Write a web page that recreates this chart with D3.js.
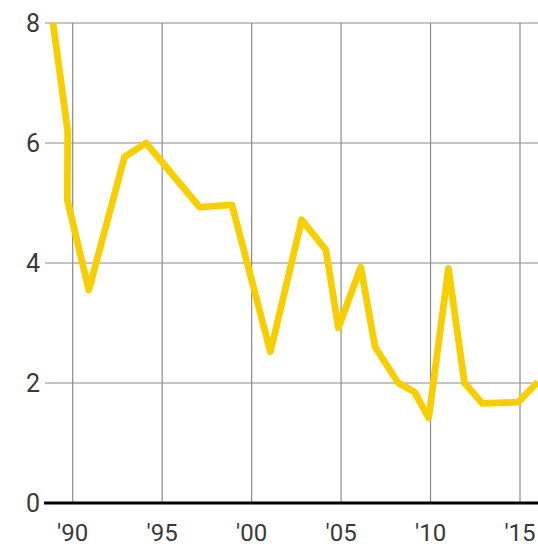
<!DOCTYPE html>
<html>
<head>
<meta charset="utf-8">
<script src="https://cdn.jsdelivr.net/npm/d3@7"></script>
<style>
  body { margin: 0; background: #fff; }
  svg { display: block; }
  text { font-family: Roboto, "Noto Sans", sans-serif; fill: #3a3a3a; }
</style>
</head>
<body>
<div class="chart"></div>
<script>
//Values (decimal years, points are not evenly spaced)
const years = [1988.9, 1989.72, 1989.7, 1990.9, 1992.9, 1994.1, 1997.1, 1998.9, 2001.05, 2002.8,
    2004.15, 2004.85, 2006.1, 2006.9, 2008.2, 2009.1, 2009.9, 2011.0, 2011.9, 2012.9, 2014.9, 2016.0];
const values = [8.0, 6.2, 5.05, 3.55, 5.77, 6.0, 4.93, 4.97, 2.52, 4.72,
    4.22, 2.92, 3.93, 2.6, 2.0, 1.85, 1.42, 3.91, 2.0, 1.66, 1.68, 2.02];

const yTicks = [0, 2, 4, 6, 8];
const xTicks = [1990, 1995, 2000, 2005, 2010, 2015];
const xLabels = ["'90", "'95", "'00", "'05", "'10", "'15"];

const WIDTH = 538;
const HEIGHT = 549;

let svg = d3.select('.chart')
.append('svg')
.attr('width', WIDTH)
.attr('height', HEIGHT);

//Scales
const x = d3.scaleLinear().domain([1990, 2015]).range([72.7, 520]);
const y = d3.scaleLinear().domain([0, 8]).range([503, 23]);

//Vertical grid
svg.append('g')
.selectAll()
.data(xTicks)
.enter()
.append('line')
.attr('x1', d => x(d))
.attr('x2', d => x(d))
.attr('y1', y(8))
.attr('y2', y(0))
.style('stroke', '#8a8a8a')
.style('stroke-width', 1.2);

//Horizontal grid
svg.append('g')
.selectAll()
.data(yTicks.filter(d => d > 0))
.enter()
.append('line')
.attr('x1', 45)
.attr('x2', WIDTH)
.attr('y1', d => y(d))
.attr('y2', d => y(d))
.style('stroke', '#8a8a8a')
.style('stroke-width', 1.2);

//Baseline
svg.append('line')
.attr('x1', 44)
.attr('x2', WIDTH)
.attr('y1', y(0))
.attr('y2', y(0))
.style('stroke', '#000')
.style('stroke-width', 3.2);

//Y labels
svg.append('g')
.selectAll()
.data(yTicks)
.enter()
.append('text')
.attr('x', 40)
.attr('y', d => y(d))
.attr('dy', '0.36em')
.attr('text-anchor', 'end')
.style('font-size', '25px')
.text(d => d);

//X labels
svg.append('g')
.selectAll()
.data(xTicks)
.enter()
.append('text')
.attr('x', d => x(d))
.attr('y', 541)
.attr('text-anchor', 'middle')
.style('font-size', '24px')
.text((d, i) => xLabels[i]);

//The line
const points = years.map((yr, i) => ({year: yr, value: values[i]}));

const line = d3.line()
.x(d => x(d.year))
.y(d => y(d.value));

svg.append('path')
.datum(points)
.attr('d', line)
.style('fill', 'none')
.style('stroke', '#f7cf00')
.style('stroke-width', 6.8)
.style('stroke-linejoin', 'round')
.style('stroke-linecap', 'butt');
</script>
</body>
</html>
